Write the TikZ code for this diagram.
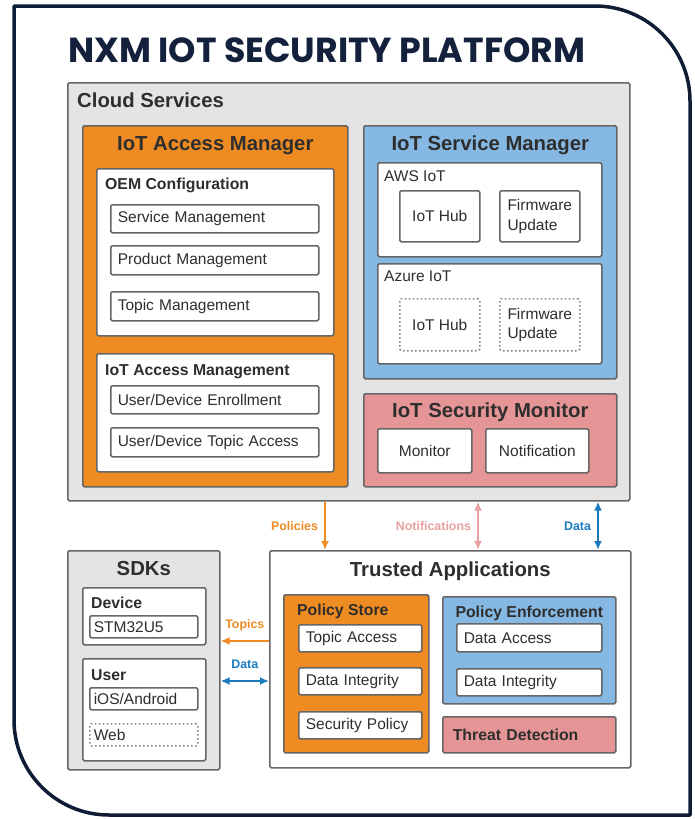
\documentclass[tikz,border=0pt]{standalone}
\usepackage{fontspec}
\setmainfont{Liberation Sans}
\newfontfamily\titlefont{Poppins}
\usetikzlibrary{arrows.meta,positioning}

\definecolor{navy}{HTML}{0E1C36}
\definecolor{titleblue}{HTML}{14213D}
\definecolor{cloudgray}{HTML}{E4E4E4}
\definecolor{edgegray}{HTML}{666666}
\definecolor{amber}{HTML}{EE8B22}
\definecolor{skyblue}{HTML}{85B8E2}
\definecolor{rosepink}{HTML}{E69597}
\definecolor{inkgray}{HTML}{2E2E2E}
\definecolor{datablue}{HTML}{1B7BBE}
\definecolor{notepink}{HTML}{E8A0A0}

\begin{document}
\begin{tikzpicture}[x=1pt,y=-1pt,>={Latex[length=9pt,width=8pt]},
  box/.style={draw=edgegray,line width=1.6pt,rounded corners=1.5pt,
    anchor=north west,inner sep=0pt},
  cloud box/.style={box,fill=cloudgray},
  orange box/.style={box,fill=amber},
  blue box/.style={box,fill=skyblue},
  pink box/.style={box,fill=rosepink},
  white box/.style={box,fill=white},
  item/.style={box,fill=white,text=inkgray,align=left,inner xsep=7pt,
    font=\fontsize{15.5}{19.5}\selectfont},
  dotted item/.style={item,draw=edgegray!80,dash pattern=on 1.5pt off 2.5pt},
  head/.style={font=\bfseries\fontsize{20.3}{24}\selectfont,text=inkgray,inner sep=0pt},
  subhead/.style={font=\bfseries\fontsize{15.8}{19}\selectfont,text=inkgray,inner sep=0pt},
  plain/.style={font=\fontsize{15.5}{19}\selectfont,text=inkgray,inner sep=0pt},
  link/.style={line width=2pt},
  link label/.style={font=\bfseries\fontsize{12.4}{14}\selectfont,inner sep=0pt}]

  \useasboundingbox (0,0) rectangle (694,819);

  % outer frame and title
  \draw[navy,line width=3.5pt,line join=round]
    (109,815) .. controls (56.6,815) and (14,772.4) .. (14,720) -- (14,6)
    -- (595,6) .. controls (647.4,6) and (690,48.6) .. (690,101) -- (690,815) -- cycle;
  \node[font=\titlefont\bfseries\fontsize{34.8}{38}\selectfont,text=titleblue,
    anchor=base west,inner sep=0pt] (Title) at (68,62) {NXM IOT SECURITY PLATFORM};

  % cloud services
  \node[cloud box,minimum width=562pt,minimum height=418pt] (Cloud) at (67,82) {};
  \node[head,below right=11pt and 10pt of Cloud.north west] (CloudTitle) {Cloud Services};

  \node[orange box,minimum width=265pt,minimum height=361pt] (AccMgr) at (82,125) {};
  \node[head,below=11pt of AccMgr.north] (AccMgrTitle) {IoT Access Manager};
  \node[white box,minimum width=237pt,minimum height=167pt] (OEM) at (96,168) {};
  \node[subhead,below right=10pt and 9pt of OEM.north west] (OEMTitle) {OEM Configuration};
  \node[item,text width=194pt,minimum height=28pt] (SvcMgmt) at (110,204) {Service Management};
  \node[item,text width=194pt,minimum height=29pt] (ProdMgmt) at (110,245) {Product Management};
  \node[item,text width=194pt,minimum height=29pt] (TopicMgmt) at (110,291) {Topic Management};
  \node[white box,minimum width=237pt,minimum height=118pt] (AccMgmt) at (96,353) {};
  \node[subhead,below right=11pt and 9pt of AccMgmt.north west] (AccMgmtTitle) {IoT Access Management};
  \node[item,text width=194pt,minimum height=28pt] (Enroll) at (110,385) {User/Device Enrollment};
  \node[item,text width=194pt,minimum height=29pt] (TopicAcc) at (110,427) {User/Device Topic Access};

  \node[blue box,minimum width=253pt,minimum height=253pt] (SvcMgr) at (363,125) {};
  \node[head,below=11pt of SvcMgr.north] (SvcMgrTitle) {IoT Service Manager};
  \node[white box,minimum width=224pt,minimum height=94pt] (AWS) at (377,162) {};
  \node[plain,below right=8pt and 7pt of AWS.north west] (AWSTitle) {AWS IoT};
  \node[item,minimum width=80pt,minimum height=51pt] (AWSHub) at (399,190) {IoT Hub};
  \node[item,minimum width=80pt,minimum height=51pt] (AWSFw) at (499,190) {Firmware\\Update};
  \node[white box,minimum width=224pt,minimum height=100pt] (Azure) at (377,263) {};
  \node[plain,below right=8pt and 7pt of Azure.north west] (AzureTitle) {Azure IoT};
  \node[dotted item,minimum width=80pt,minimum height=52pt] (AzHub) at (399,298) {IoT Hub};
  \node[dotted item,minimum width=80pt,minimum height=52pt] (AzFw) at (499,298) {Firmware\\Update};

  \node[pink box,minimum width=253pt,minimum height=93pt] (SecMon) at (363,393) {};
  \node[head,below=10pt of SecMon.north] (SecMonTitle) {IoT Security Monitor};
  \node[item,minimum width=94pt,minimum height=44pt] (Monitor) at (377,428) {Monitor};
  \node[item,minimum width=103pt,minimum height=44pt] (Notif) at (485,428) {Notification};

  % trusted applications
  \node[white box,minimum width=361pt,minimum height=217pt] (Trusted) at (269,550) {};
  \node[head,below=12pt of Trusted.north] (TrustedTitle) {Trusted Applications};
  \node[orange box,minimum width=145pt,minimum height=158pt] (PolStore) at (283,594) {};
  \node[subhead,below right=10pt and 14pt of PolStore.north west] (PolStoreTitle) {Policy Store};
  \node[item,text width=109pt,minimum height=27pt] (TopicAccess) at (298,624) {Topic Access};
  \node[item,text width=109pt,minimum height=27pt] (StoreInteg) at (298,667) {Data Integrity};
  \node[item,text width=109pt,minimum height=27pt] (SecPolicy) at (298,711) {Security Policy};
  \node[blue box,minimum width=173pt,minimum height=107pt] (PolEnf) at (442,596) {};
  \node[subhead,below=10pt of PolEnf.north] (PolEnfTitle) {Policy Enforcement};
  \node[item,text width=131pt,minimum height=28pt] (DataAccess) at (456,623) {Data Access};
  \node[item,text width=131pt,minimum height=27pt] (EnfInteg) at (456,668) {Data Integrity};
  \node[pink box,text width=153pt,inner xsep=10pt,minimum height=36pt,align=left,
    font=\bfseries\fontsize{15.8}{19}\selectfont,text=inkgray] (Threat) at (442,716) {Threat Detection};

  % sdks
  \node[cloud box,minimum width=152pt,minimum height=219pt] (SDKs) at (67,550) {};
  \node[head,below=11pt of SDKs.north] (SDKsTitle) {SDKs};
  \node[white box,minimum width=123pt,minimum height=57pt] (Device) at (82,587) {};
  \node[subhead,below right=10pt and 9pt of Device.north west] (DeviceTitle) {Device};
  \node[item,text width=100pt,inner xsep=4pt,minimum height=22pt] (STM) at (89,615) {STM32U5};
  \node[white box,minimum width=123pt,minimum height=102pt] (User) at (82,658) {};
  \node[subhead,below right=11pt and 9pt of User.north west] (UserTitle) {User};
  \node[item,text width=100pt,inner xsep=4pt,minimum height=22pt] (Mobile) at (89,687) {iOS/Android};
  \node[dotted item,text width=100pt,inner xsep=4pt,minimum height=22pt] (Web) at (89,723) {Web};

  % links
  \coordinate (PolX) at (325,0);
  \coordinate (NoteX) at (478,0);
  \coordinate (DataX) at (598,0);
  \coordinate (TopicY) at (0,641);
  \coordinate (SdkY) at (0,681);

  \path[link]
    (Cloud.south -| PolX) edge[->,amber] node[link label,left=6pt] {Policies} (Trusted.north -| PolX)
    (Cloud.south -| NoteX) edge[<->,notepink] node[link label,left=6pt] {Notifications} (Trusted.north -| NoteX)
    (Cloud.south -| DataX) edge[<->,datablue] node[link label,left=6pt] {Data} (Trusted.north -| DataX)
    (Trusted.west |- TopicY) edge[->,amber] node[link label,above=9pt] {Topics} (SDKs.east |- TopicY)
    (Trusted.west |- SdkY) edge[<->,datablue] node[link label,above=11pt] {Data} (SDKs.east |- SdkY)
    ;
\end{tikzpicture}
\end{document}
